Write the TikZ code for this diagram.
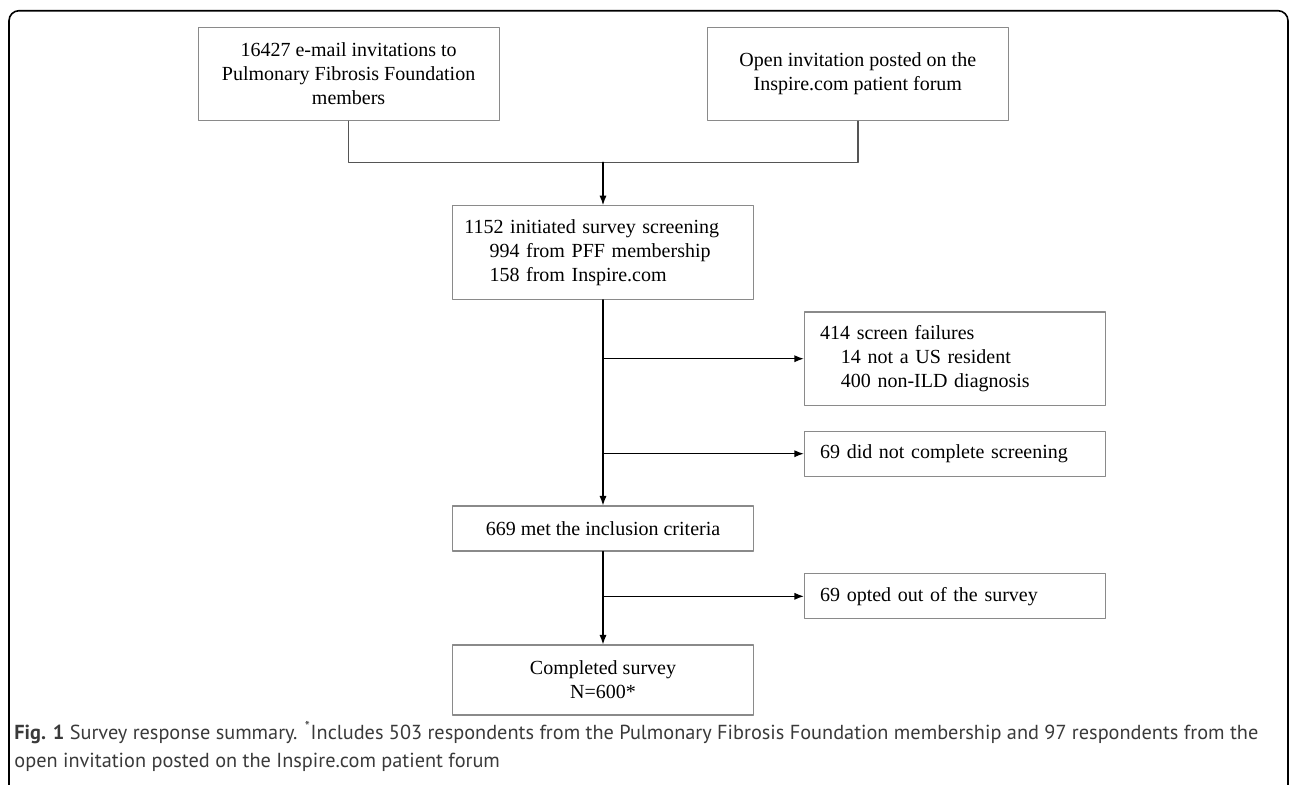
\documentclass[tikz,border=0pt]{standalone}
\usepackage{fontspec}
\setmainfont{Liberation Serif}
\newfontfamily\capfont{PT Sans}
\usepackage{tikz}
\usetikzlibrary{calc,arrows.meta}
\usepackage{xcolor}

\definecolor{boxgray}{HTML}{8A8A8A}
\definecolor{linkgray}{HTML}{555555}
\definecolor{captext}{HTML}{3A3A3A}

\tikzset{
  flowbox/.style={draw=boxgray, line width=0.55pt, minimum width=150.5pt, inner sep=0pt,
    font=\fontsize{10pt}{12pt}\selectfont},
  centerbox/.style={flowbox, align=center},
  leftbox/.style={flowbox, align=left, inner xsep=7.8pt, text width=134.9pt},
  flowarrow/.style={draw=black, line width=0.65pt, -{Latex[length=4.8pt,width=3.6pt]}},
  captionline/.style={anchor=base west, inner sep=0pt, text=captext,
    font=\capfont\fontsize{10.15pt}{14pt}\selectfont}
}

\begin{document}
\begin{tikzpicture}[x=0.5pt, y=-0.5pt, line cap=round, line join=round]

\useasboundingbox (0,0) rectangle (1290,784);
\clip (0,0) rectangle (1290,784);

% --- outer frame ---
\draw[line width=0.8pt, rounded corners=5pt] (9,10.7) rectangle (1288,800);

% --- sources ---
\node[centerbox, minimum height=46.7pt] (pff) at (348.6,74)
  {16427 e-mail invitations to\\Pulmonary Fibrosis Foundation\\members};
\node[centerbox, minimum height=46.7pt] (inspire) at (857.8,74)
  {Open invitation posted on the\\Inspire.com patient forum};

% --- screening ---
\node[leftbox, inner xsep=5.9pt, text width=138.7pt, minimum height=46.8pt] (init) at (603,252.5)
  {1152 initiated survey screening\\\hspace*{12.6pt}994 from PFF membership\\\hspace*{12.6pt}158 from Inspire.com};
\node[leftbox, minimum height=46.7pt] (fail) at (955,358.7)
  {414 screen failures\\\hspace*{10.4pt}14 not a US resident\\\hspace*{10.4pt}400 non-ILD diagnosis};
\node[leftbox, minimum height=22.4pt] (nocomp) at (955,453.7)
  {69 did not complete screening};

% --- inclusion and survey ---
\node[centerbox, minimum height=22.5pt] (incl) at (603,528.5)
  {669 met the inclusion criteria};
\node[leftbox, minimum height=22.4pt] (optout) at (955,596.3)
  {69 opted out of the survey};
\node[centerbox, minimum height=35pt] (done) at (603,680)
  {Completed survey\\N=600*};

% --- connectors ---
\coordinate (merge) at (603,162.3);
\draw[draw=linkgray, line width=0.7pt] (pff.south) |- (merge) -| (inspire.south);
\draw[flowarrow] (merge) -- (init.north);
\draw[flowarrow] (init.south) -- (incl.north);
\draw[flowarrow] (init.south |- fail.west) -- (fail.west);
\draw[flowarrow] (init.south |- nocomp.west) -- (nocomp.west);
\draw[flowarrow] (incl.south) -- (done.north);
\draw[flowarrow] (incl.south |- optout.west) -- (optout.west);

% --- caption ---
\node[captionline] (capA) at (14,739)
  {\textbf{Fig. 1} Survey response summary. \textsuperscript{*}Includes 503 respondents from the Pulmonary Fibrosis Foundation membership and 97 respondents from the};
\node[captionline] (capB) at (14,767)
  {open invitation posted on the Inspire.com patient forum};

\end{tikzpicture}
\end{document}
